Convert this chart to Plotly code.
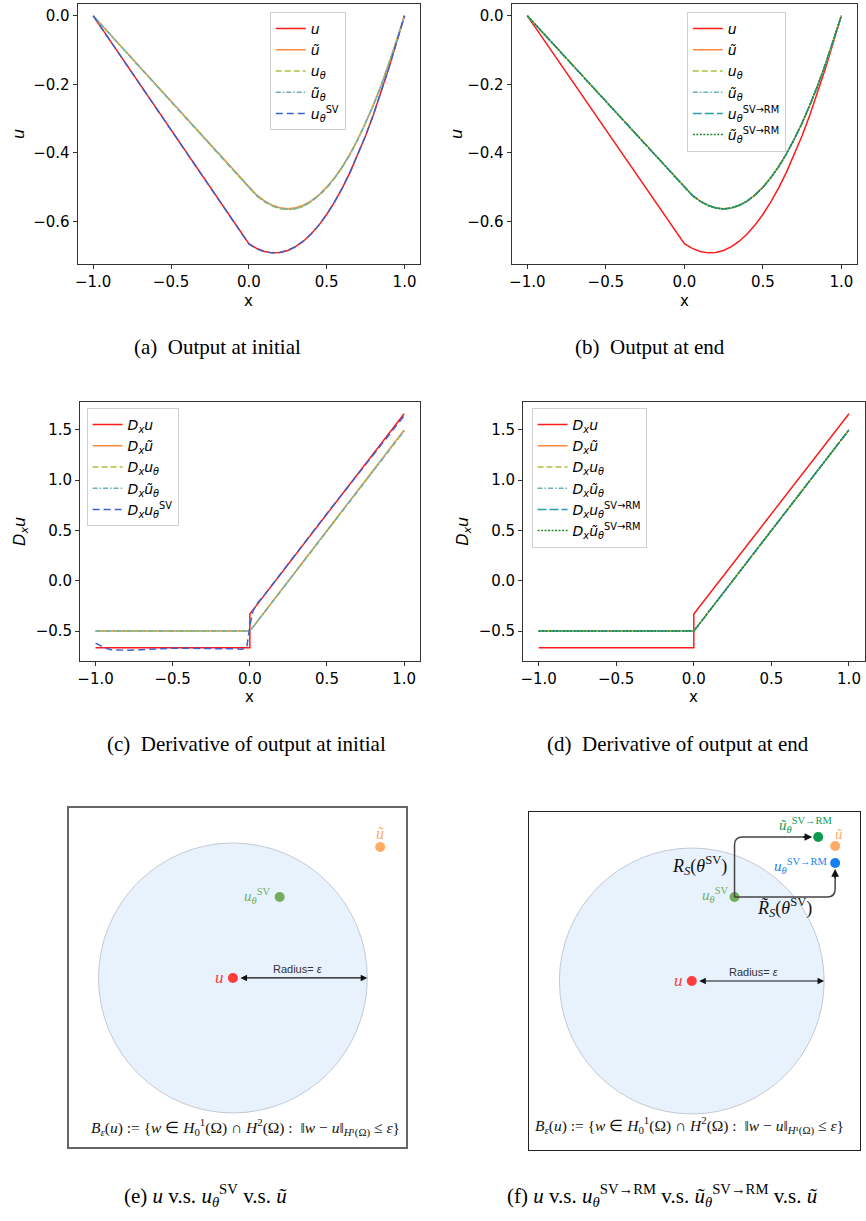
import plotly.graph_objects as go

W, H = 866, 1221

# ---------------------------------------------------------------- data
# sample points on [-1, 1]
x_grid = [-1.0, -0.5, 0.0, 0.05, 0.10, 0.15, 0.20, 0.25, 0.30, 0.35, 0.40, 0.45,
          0.50, 0.55, 0.60, 0.65, 0.70, 0.75, 0.80, 0.85, 0.90, 0.95, 1.0]

# exact solution u
u_vals = [0.0, -0.333, -0.665, -0.679, -0.688, -0.692, -0.691, -0.685, -0.674, -0.658,
          -0.637, -0.611, -0.580, -0.544, -0.503, -0.457, -0.406, -0.350, -0.289,
          -0.223, -0.152, -0.076, 0.0]
# smoothed target u-tilde
ut_vals = [0.0, -0.250, -0.500, -0.523, -0.540, -0.553, -0.560, -0.563, -0.560, -0.553,
           -0.540, -0.523, -0.500, -0.473, -0.440, -0.403, -0.360, -0.313, -0.260,
           -0.203, -0.140, -0.073, 0.0]
# network outputs at initial
u_theta_init = [0.0, -0.252, -0.503, -0.526, -0.543, -0.555, -0.563, -0.566, -0.564, -0.556,
                -0.543, -0.525, -0.503, -0.475, -0.443, -0.405, -0.362, -0.314, -0.261,
                -0.203, -0.141, -0.073, 0.0]
ut_theta_init = [0.0, -0.251, -0.502, -0.525, -0.542, -0.554, -0.562, -0.565, -0.563, -0.555,
                 -0.542, -0.524, -0.502, -0.474, -0.442, -0.404, -0.361, -0.313, -0.261,
                 -0.203, -0.141, -0.073, 0.0]
u_sv_init = [0.0, -0.333, -0.666, -0.680, -0.689, -0.692, -0.691, -0.685, -0.674, -0.658,
             -0.637, -0.611, -0.580, -0.544, -0.503, -0.457, -0.406, -0.350, -0.289,
             -0.223, -0.152, -0.076, 0.0]
# network outputs at end
u_theta_end = [0.0, -0.251, -0.501, -0.524, -0.541, -0.554, -0.561, -0.564, -0.561, -0.554,
               -0.541, -0.524, -0.501, -0.473, -0.441, -0.403, -0.360, -0.313, -0.260,
               -0.203, -0.140, -0.073, 0.0]
ut_theta_end = u_theta_end
u_rm_end = [0.0, -0.251, -0.501, -0.524, -0.541, -0.553, -0.561, -0.564, -0.561, -0.553,
            -0.541, -0.523, -0.501, -0.473, -0.441, -0.403, -0.360, -0.313, -0.260,
            -0.203, -0.140, -0.073, 0.0]
ut_rm_end = u_rm_end

# derivatives
dx_u_x = [-1.0, 0.0, 0.0, 1.0]
dx_u = [-0.665, -0.665, -0.33, 1.66]
dx_lin_x = [-1.0, 0.0, 1.0]
dx_ut = [-0.5, -0.5, 1.5]
dx_u_theta_init = [-0.5, -0.5, 1.49]
dx_ut_theta_init = [-0.5, -0.5, 1.49]
dx_sv_x = [-1.0, -0.95, -0.9, -0.85, -0.8, -0.7, -0.6, -0.5, -0.4, -0.3, -0.2, -0.1,
           -0.05, -0.02, 0.0, 0.02, 0.05, 0.1, 0.5, 1.0]
dx_u_sv_init = [-0.62, -0.66, -0.685, -0.69, -0.69, -0.685, -0.675, -0.67, -0.67, -0.675,
                -0.675, -0.675, -0.68, -0.66, -0.45, -0.30, -0.22, -0.13, 0.67, 1.64]
dx_u_theta_end = [-0.5, -0.5, 1.5]
dx_ut_theta_end = [-0.5, -0.5, 1.5]
dx_u_rm_end = [-0.5, -0.5, 1.5]
dx_ut_rm_end = [-0.5, -0.5, 1.5]

# schematic positions (units of the ball radius, ball centred at u)
e_names = ["u", "u_sv", "u_tilde"]
e_x = [0.0, 0.348, 1.096]
e_y = [0.0, 0.600, 0.970]
f_names = ["u", "u_sv", "ut_rm", "u_tilde", "u_rm"]
f_x = [0.0, 0.323, 0.955, 1.083, 1.083]
f_y = [0.0, 0.632, 1.083, 1.015, 0.887]

# ---------------------------------------------------------------- styles
C_U, C_UT = "#ff1a1a", "#ff8a3d"
C_UTH, C_UTTH, C_SV = "#a9c23f", "#6cb0b5", "#3f5fcf"
C_RM, C_UTRM = "#2a9ea5", "#1c8a2a"
P_RED, P_ORANGE, P_GREEN = "#ff3b3b", "#ffab66", "#74ad5f"
P_DGREEN, P_BLUE = "#0f9a4f", "#1a80f2"

SANS = "DejaVu Sans"
SERIF = "Liberation Serif"


def fx(p):
    return p / W


def fy(p):
    return 1 - p / H


fig = go.Figure()


def add_line(x, y, name, color, dash, ax, leg, width=1.5):
    fig.add_trace(go.Scatter(
        x=x, y=y, mode="lines", name=name,
        line=dict(color=color, width=width, dash=dash),
        xaxis="x" + ax, yaxis="y" + ax, legend=leg))


def I(s):
    return "<i>" + s + "</i>"


N_U = I("u")
N_UT = I("ũ")
N_UTH = I("u") + "<sub>" + I("θ") + "</sub>"
N_UTTH = I("ũ") + "<sub>" + I("θ") + "</sub>"
N_SV = I("u") + "<sub>" + I("θ") + "</sub><sup>SV</sup>"
N_RM = I("u") + "<sub>" + I("θ") + "</sub><sup>SV→RM</sup>"
N_UTRM = I("ũ") + "<sub>" + I("θ") + "</sub><sup>SV→RM</sup>"
D = I("D") + "<sub>" + I("x") + "</sub>"

DASH = "6px,3px"
DASHDOT = "5px,2px,1.5px,2px"
SVDASH = "7px,4px"
RMDASH = "9px,3px"
DOT = "2px,1.5px"

# (a) output at initial
add_line(x_grid, u_vals, N_U, C_U, "solid", "", "legend")
add_line(x_grid, ut_vals, N_UT, C_UT, "solid", "", "legend")
add_line(x_grid, u_theta_init, N_UTH, C_UTH, DASH, "", "legend")
add_line(x_grid, ut_theta_init, N_UTTH, C_UTTH, DASHDOT, "", "legend")
add_line(x_grid, u_sv_init, N_SV, C_SV, SVDASH, "", "legend")

# (b) output at end
add_line(x_grid, u_vals, N_U, C_U, "solid", "2", "legend2")
add_line(x_grid, ut_vals, N_UT, C_UT, "solid", "2", "legend2")
add_line(x_grid, u_theta_end, N_UTH, C_UTH, DASH, "2", "legend2")
add_line(x_grid, ut_theta_end, N_UTTH, C_UTTH, DASHDOT, "2", "legend2")
add_line(x_grid, u_rm_end, N_RM, C_RM, RMDASH, "2", "legend2")
add_line(x_grid, ut_rm_end, N_UTRM, C_UTRM, DOT, "2", "legend2")

# (c) derivative at initial
add_line(dx_u_x, dx_u, D + N_U, C_U, "solid", "3", "legend3")
add_line(dx_lin_x, dx_ut, D + N_UT, C_UT, "solid", "3", "legend3")
add_line(dx_lin_x, dx_u_theta_init, D + N_UTH, C_UTH, DASH, "3", "legend3")
add_line(dx_lin_x, dx_ut_theta_init, D + N_UTTH, C_UTTH, DASHDOT, "3", "legend3")
add_line(dx_sv_x, dx_u_sv_init, D + N_SV, C_SV, SVDASH, "3", "legend3")

# (d) derivative at end
add_line(dx_u_x, dx_u, D + N_U, C_U, "solid", "4", "legend4")
add_line(dx_lin_x, dx_ut, D + N_UT, C_UT, "solid", "4", "legend4")
add_line(dx_lin_x, dx_u_theta_end, D + N_UTH, C_UTH, DASH, "4", "legend4")
add_line(dx_lin_x, dx_ut_theta_end, D + N_UTTH, C_UTTH, DASHDOT, "4", "legend4")
add_line(dx_lin_x, dx_u_rm_end, D + N_RM, C_RM, RMDASH, "4", "legend4")
add_line(dx_lin_x, dx_ut_rm_end, D + N_UTRM, C_UTRM, DOT, "4", "legend4")

# ---------------------------------------------------------------- axes
tick_font = dict(family=SANS, size=15, color="black")
base = dict(showline=True, linecolor="#333", linewidth=1, mirror=True,
            ticks="outside", ticklen=4, tickwidth=1, tickcolor="#333",
            showgrid=False, zeroline=False, tickfont=tick_font,
            tickformat=".1f", fixedrange=True)

panels = {
    "": ((75, 419), (4, 264), [-1.1, 1.1], [-0.7245, 0.0345], 0.2),
    "2": ((511, 858), (4, 264), [-1.1, 1.1], [-0.7245, 0.0345], 0.2),
    "3": ((77.5, 418.5), (402, 661), [-1.1, 1.1], [-0.797, 1.777], 0.5),
    "4": ((522.5, 865.5), (402, 661), [-1.1, 1.1], [-0.797, 1.777], 0.5),
}
layout = {}
for k, ((xl, xr), (yt, yb), xr_, yr_, dy) in panels.items():
    layout["xaxis" + k] = dict(base, domain=[fx(xl), fx(xr)], range=xr_, dtick=0.5,
                               tick0=0, anchor="y" + k)
    layout["yaxis" + k] = dict(base, domain=[fy(yb), fy(yt)], range=yr_, dtick=dy,
                               tick0=0, anchor="x" + k)

diag = dict(showline=True, mirror=True, ticks="", showticklabels=False,
            showgrid=False, zeroline=False, fixedrange=True)
layout["xaxis5"] = dict(diag, domain=[fx(66), fx(405)], range=[-1.222, 1.289],
                        anchor="y5", linecolor="#666", linewidth=1.5)
layout["yaxis5"] = dict(diag, domain=[fy(1147), fy(808)], range=[-1.252, 1.259],
                        anchor="x5", linecolor="#666", linewidth=1.5)
layout["xaxis6"] = dict(diag, domain=[fx(528), fx(861)], range=[-1.233, 1.271],
                        anchor="y6", linecolor="#222", linewidth=1.2)
layout["yaxis6"] = dict(diag, domain=[fy(1150), fy(812)], range=[-1.271, 1.271],
                        anchor="x6", linecolor="#222", linewidth=1.2)

leg = dict(font=dict(family=SANS, size=14, color="black"), bgcolor="rgba(255,255,255,0.85)",
           bordercolor="#d0d0d0", borderwidth=1, xanchor="left", yanchor="top",
           itemwidth=30, tracegroupgap=0)
layout["legend"] = dict(leg, x=fx(268), y=fy(12))
layout["legend2"] = dict(leg, x=fx(687), y=fy(12))
layout["legend3"] = dict(leg, x=fx(84), y=fy(408))
layout["legend4"] = dict(leg, x=fx(531), y=fy(408))

fig.update_layout(width=W, height=H, margin=dict(l=0, r=0, t=0, b=0),
                  paper_bgcolor="white", plot_bgcolor="white", **layout)

# ---------------------------------------------------------------- schematics
ann = []
shapes = []


def point_trace(xs, ys, colors, ax):
    fig.add_trace(go.Scatter(x=xs, y=ys, mode="markers", showlegend=False,
                             marker=dict(size=10, color=colors, line=dict(width=0)),
                             xaxis="x" + ax, yaxis="y" + ax, hoverinfo="skip"))


for ax in ("5", "6"):
    shapes.append(dict(type="circle", xref="x" + ax, yref="y" + ax, x0=-1, y0=-1,
                       x1=1, y1=1, fillcolor="#e8f2fd", line=dict(color="#c2c9d1", width=1),
                       layer="below"))

point_trace(e_x, e_y, [P_RED, P_GREEN, P_ORANGE], "5")
point_trace(f_x, f_y, [P_RED, P_GREEN, P_DGREEN, P_ORANGE, P_BLUE], "6")


def label(ax, x, y, text, color, size=15, xanchor="center", family=SERIF):
    ann.append(dict(xref="x" + ax, yref="y" + ax, x=x, y=y, text=text, showarrow=False,
                    xanchor=xanchor, yanchor="middle",
                    font=dict(family=family, size=size, color=color)))


def arrow(ax, x, y, tx, ty, both=False, width=1.4, color="#222"):
    ann.append(dict(xref="x" + ax, yref="y" + ax, axref="x" + ax, ayref="y" + ax,
                    x=x, y=y, ax=tx, ay=ty, text="", showarrow=True,
                    arrowhead=2, startarrowhead=2, arrowsize=1.1, startarrowsize=1.1,
                    arrowwidth=width, arrowcolor=color, standoff=0, startstandoff=0,
                    arrowside="end+start" if both else "end"))


SV_SUP = "<sup>SV</sup>"
RM_SUP = "<sup>SV→RM</sup>"
ball_formula = (I("B") + "<sub>" + I("ε") + "</sub>(" + I("u") + ") := {" + I("w") + " ∈ "
                + I("H") + "<sub>0</sub><sup>1</sup>(Ω) ∩ " + I("H") + "<sup>2</sup>(Ω) :  ‖"
                + I("w") + " − " + I("u") + "‖<sub>" + I("H") + "¹(Ω)</sub> ≤ " + I("ε") + "}")

# (e)
label("5", e_x[0] - 0.05, e_y[0], I("u"), P_RED, 17, "right")
label("5", e_x[1] - 0.05, e_y[1] + 0.01, I("u") + "<sub>" + I("θ") + "</sub>" + SV_SUP,
      P_GREEN, 15, "right")
label("5", e_x[2], e_y[2] + 0.1, I("ũ"), P_ORANGE, 16)
arrow("5", 1.0, 0.0, e_x[0] + 0.045, e_y[0], both=True, width=1.2, color="#111")
label("5", 0.48, 0.07, "Radius= " + I("ε"), "#333", 11, family="Liberation Sans")
label("5", 0.096, -1.111, ball_formula, "#111", 15.5)

# (f)
label("6", f_x[0] - 0.05, f_y[0], I("u"), P_RED, 17, "right")
label("6", f_x[1] - 0.03, f_y[1] + 0.015, I("u") + "<sub>" + I("θ") + "</sub>" + SV_SUP,
      P_GREEN, 15, "right")
label("6", f_x[2] - 0.09, f_y[2] + 0.09, I("ũ") + "<sub>" + I("θ") + "</sub>" + RM_SUP,
      P_DGREEN, 15)
label("6", f_x[3] + 0.03, f_y[3] + 0.09, I("ũ"), P_ORANGE, 15)
label("6", f_x[4] - 0.04, f_y[4] - 0.02, I("u") + "<sub>" + I("θ") + "</sub>" + RM_SUP,
      P_BLUE, 15, "right")
label("6", 0.06, 0.872, I("R") + "<sub>" + I("S") + "</sub>(" + I("θ") + SV_SUP + ")",
      "#111", 18)
label("6", 0.70, 0.549, I("R̃") + "<sub>" + I("S") + "</sub>(" + I("θ") + SV_SUP + ")",
      "#111", 18)
arrow("6", 1.0, 0.0, f_x[0] + 0.045, f_y[0], both=True, width=1.2, color="#111")
label("6", 0.47, 0.068, "Radius= " + I("ε"), "#333", 11, family="Liberation Sans")
label("6", -0.015, -1.09, ball_formula, "#111", 15.5)

# elbow paths from u_theta^SV to the two RM outputs
rc = 0.06
dot_r = 0.045
sx, sy = f_x[1], f_y[1]
gx, gy = f_x[2], f_y[2]
bx, by = f_x[4], f_y[4]
up_path = (f"M {sx},{sy} L {sx},{gy - rc} Q {sx},{gy} {sx + rc},{gy} "
           f"L {gx - dot_r - 0.05},{gy}")
right_path = (f"M {sx},{sy} L {bx - rc},{sy} Q {bx},{sy} {bx},{sy + rc} "
              f"L {bx},{by - dot_r - 0.05}")
for pth in (up_path, right_path):
    shapes.append(dict(type="path", xref="x6", yref="y6", path=pth,
                       line=dict(color="#444", width=1.5)))
arrow("6", gx - dot_r, gy, gx - dot_r - 0.08, gy, color="#111")
arrow("6", bx, by - dot_r, bx, by - dot_r - 0.08, color="#111")

# ---------------------------------------------------------------- axis titles & captions
def paper_text(x, y, text, size, family, angle=0):
    ann.append(dict(xref="paper", yref="paper", x=fx(x), y=fy(y), text=text,
                    showarrow=False, xanchor="center", yanchor="middle", textangle=angle,
                    font=dict(family=family, size=size, color="black")))


paper_text(247, 301, "x", 15, SANS)
paper_text(685, 301, "x", 15, SANS)
paper_text(248, 697, "x", 15, SANS)
paper_text(694, 697, "x", 15, SANS)
paper_text(15, 134, I("u"), 16, SANS, -90)
paper_text(455, 134, I("u"), 16, SANS, -90)
paper_text(17, 531, D + I("u"), 16, SANS, -90)
paper_text(462, 531, D + I("u"), 16, SANS, -90)

paper_text(215, 347, "(a)  Output at initial", 21, SERIF)
paper_text(650, 347, "(b)  Output at end", 21, SERIF)
paper_text(245, 744, "(c)  Derivative of output at initial", 21, SERIF)
paper_text(678, 744, "(d)  Derivative of output at end", 21, SERIF)
paper_text(203, 1195, "(e) " + I("u") + " v.s. " + I("u") + "<sub>" + I("θ") + "</sub>"
           + SV_SUP + " v.s. " + I("ũ"), 21, SERIF)
paper_text(663, 1195, "(f) " + I("u") + " v.s. " + I("u") + "<sub>" + I("θ") + "</sub>"
           + RM_SUP + " v.s. " + I("ũ") + "<sub>" + I("θ") + "</sub>" + RM_SUP
           + " v.s. " + I("ũ"), 21, SERIF)

fig.update_layout(annotations=ann, shapes=shapes)
fig.write_html("out.html")
